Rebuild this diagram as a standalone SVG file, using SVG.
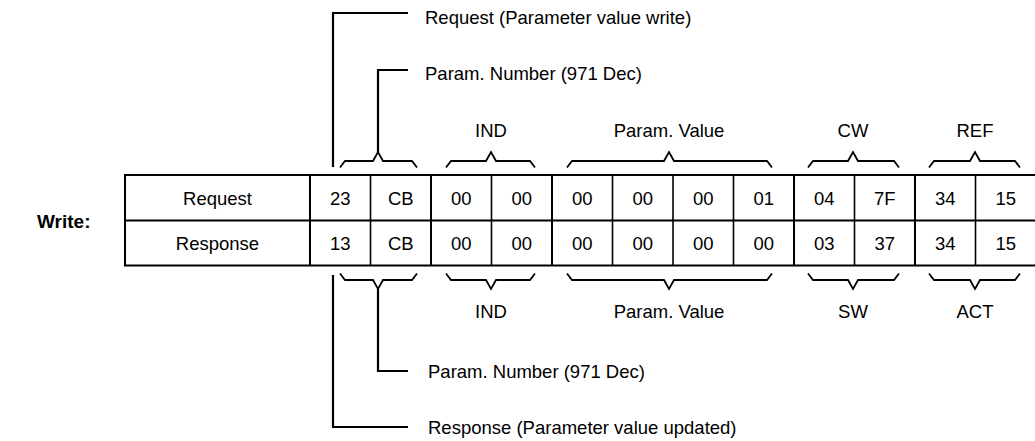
<svg xmlns="http://www.w3.org/2000/svg" width="1035" height="441" viewBox="0 0 1035 441">
<style>
text{font-family:"Liberation Sans",Arial,sans-serif;font-size:18.5px;fill:#000}
.c{text-anchor:middle}
.b{font-weight:bold;font-size:19px}
.thick{stroke:#000;stroke-width:2;fill:none}
.thin{stroke:#000;stroke-width:1.6;fill:none}
.brace{stroke:#000;stroke-width:1.8;fill:none;stroke-linejoin:miter}
.lead{stroke:#000;stroke-width:2.2;fill:none}
</style>
<rect width="1035" height="441" fill="#fff"/>
<g id="label-write"><text class="b" x="37" y="228">Write:</text></g>
<g id="table">
<rect class="thick" x="125" y="175" width="911" height="90.5"/>
<line class="thick" x1="125" y1="220.5" x2="1036" y2="220.5"/>
<line class="thick" x1="310" y1="175" x2="310" y2="265.5"/>
<line class="thin" x1="370.5" y1="175" x2="370.5" y2="265.5"/>
<line class="thick" x1="431" y1="175" x2="431" y2="265.5"/>
<line class="thin" x1="491.5" y1="175" x2="491.5" y2="265.5"/>
<line class="thick" x1="552" y1="175" x2="552" y2="265.5"/>
<line class="thin" x1="612.5" y1="175" x2="612.5" y2="265.5"/>
<line class="thin" x1="673" y1="175" x2="673" y2="265.5"/>
<line class="thin" x1="733.5" y1="175" x2="733.5" y2="265.5"/>
<line class="thick" x1="794" y1="175" x2="794" y2="265.5"/>
<line class="thin" x1="854.5" y1="175" x2="854.5" y2="265.5"/>
<line class="thick" x1="915" y1="175" x2="915" y2="265.5"/>
<line class="thin" x1="975.5" y1="175" x2="975.5" y2="265.5"/>
<g id="row-request">
<text class="c" x="217.5" y="204.5">Request</text>
<text class="c" x="340.3" y="204.5">23</text>
<text class="c" x="400.8" y="204.5">CB</text>
<text class="c" x="461.3" y="204.5">00</text>
<text class="c" x="521.8" y="204.5">00</text>
<text class="c" x="582.3" y="204.5">00</text>
<text class="c" x="642.8" y="204.5">00</text>
<text class="c" x="703.3" y="204.5">00</text>
<text class="c" x="763.8" y="204.5">01</text>
<text class="c" x="824.3" y="204.5">04</text>
<text class="c" x="884.8" y="204.5">7F</text>
<text class="c" x="945.3" y="204.5">34</text>
<text class="c" x="1005.8" y="204.5">15</text>
</g>
<g id="row-response">
<text class="c" x="217.5" y="249.7">Response</text>
<text class="c" x="340.3" y="249.7">13</text>
<text class="c" x="400.8" y="249.7">CB</text>
<text class="c" x="461.3" y="249.7">00</text>
<text class="c" x="521.8" y="249.7">00</text>
<text class="c" x="582.3" y="249.7">00</text>
<text class="c" x="642.8" y="249.7">00</text>
<text class="c" x="703.3" y="249.7">00</text>
<text class="c" x="763.8" y="249.7">00</text>
<text class="c" x="824.3" y="249.7">03</text>
<text class="c" x="884.8" y="249.7">37</text>
<text class="c" x="945.3" y="249.7">34</text>
<text class="c" x="1005.8" y="249.7">15</text>
</g>
</g>
<g id="connectors">
<path class="lead" d="M408 13 H333 V167"/>
<path class="lead" d="M408 70 H378 V152"/>
<path class="lead" d="M408 427 H333 V275"/>
<path class="lead" d="M408 371 H378 V289"/>
<g id="braces-top">
<path class="brace" d="M340 167.5 L345 161 H373 L378 152 L383 161 H412 L417 167.5"/>
<path class="brace" d="M446 167.5 L451 161 H486 L491 152 L496 161 H530 L535 167.5"/>
<path class="brace" d="M567 167.5 L572 161 H664 L669 152 L674 161 H767 L772 167.5"/>
<path class="brace" d="M808 167.5 L813 161 H848 L853 152 L858 161 H894 L899 167.5"/>
<path class="brace" d="M929 167.5 L934 161 H970 L975 152 L980 161 H1015 L1020 167.5"/>
</g>
<g id="braces-bottom">
<path class="brace" d="M340 273.5 L345 280 H373 L378 289 L383 280 H412 L417 273.5"/>
<path class="brace" d="M446 273.5 L451 280 H486 L491 289 L496 280 H530 L535 273.5"/>
<path class="brace" d="M567 273.5 L572 280 H664 L669 289 L674 280 H767 L772 273.5"/>
<path class="brace" d="M808 273.5 L813 280 H848 L853 289 L858 280 H894 L899 273.5"/>
<path class="brace" d="M929 273.5 L934 280 H970 L975 289 L980 280 H1015 L1020 273.5"/>
</g>
</g>
<g id="label-request-top"><text x="425" y="23.5">Request (Parameter value write)</text></g>
<g id="label-param-top"><text x="425" y="80">Param. Number (971 Dec)</text></g>
<g id="label-ind-top"><text class="c" x="491" y="136.5">IND</text></g>
<g id="label-pv-top"><text class="c" x="669" y="136.5">Param. Value</text></g>
<g id="label-cw"><text class="c" x="853" y="136.5">CW</text></g>
<g id="label-ref"><text class="c" x="975" y="136.5">REF</text></g>
<g id="label-ind-bottom"><text class="c" x="491" y="318">IND</text></g>
<g id="label-pv-bottom"><text class="c" x="669" y="318">Param. Value</text></g>
<g id="label-sw"><text class="c" x="853" y="318">SW</text></g>
<g id="label-act"><text class="c" x="975" y="318">ACT</text></g>
<g id="label-param-bottom"><text x="428" y="378">Param. Number (971 Dec)</text></g>
<g id="label-response-bottom"><text x="428" y="433.5">Response (Parameter value updated)</text></g>
</svg>
